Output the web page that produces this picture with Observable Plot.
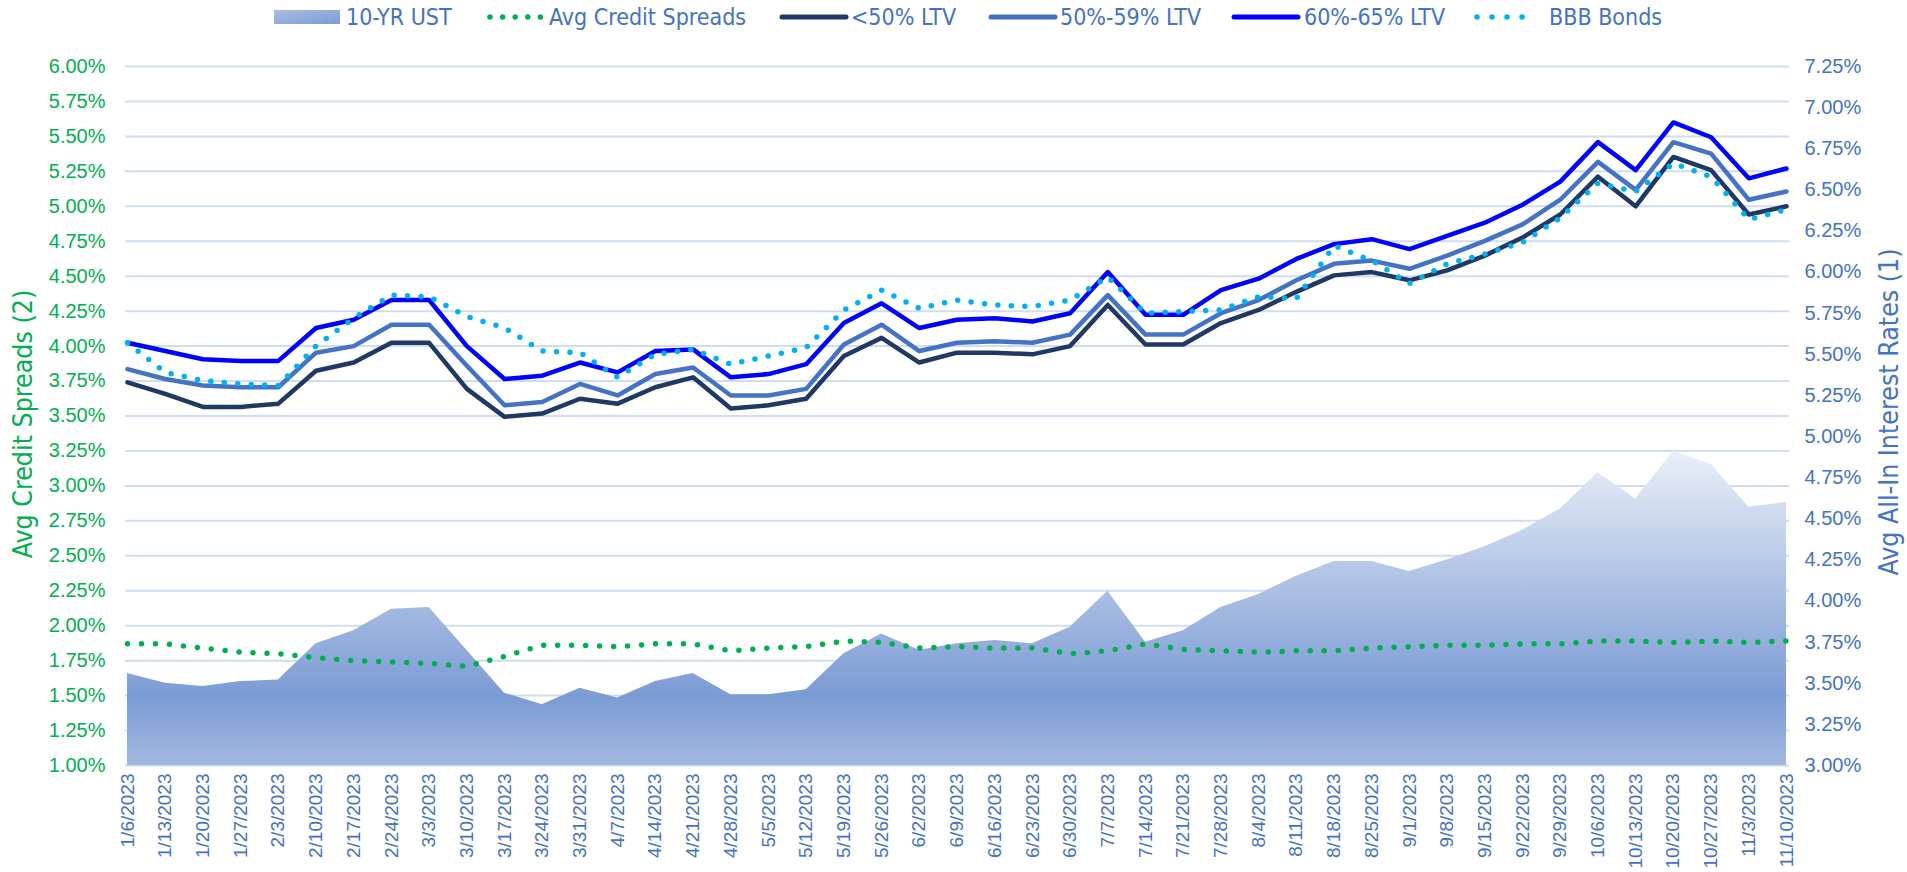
<!DOCTYPE html>
<html><head><meta charset="utf-8">
<script src="https://cdn.jsdelivr.net/npm/d3@7"></script>
<script src="https://cdn.jsdelivr.net/npm/@observablehq/plot@0.6"></script>
<style>
body{margin:0;background:#fff;font-family:"Liberation Sans",Arial,sans-serif;}
#legend{position:relative;width:1907px;height:34px;}
.li{position:absolute;top:0;height:34px;display:flex;align-items:center;}
.lt{position:absolute;top:0;height:34px;line-height:34px;font-family:"Liberation Sans Narrow","Arial Narrow","DejaVu Sans Condensed",sans-serif;font-size:23px;color:#4472C4;white-space:nowrap;}
#chart svg{display:block;}
</style></head><body>
<div id="legend"></div>
<div id="chart"></div>
<script>
const dates = ["1/6/2023","1/13/2023","1/20/2023","1/27/2023","2/3/2023","2/10/2023","2/17/2023","2/24/2023","3/3/2023","3/10/2023","3/17/2023","3/24/2023","3/31/2023","4/7/2023","4/14/2023","4/21/2023","4/28/2023","5/5/2023","5/12/2023","5/19/2023","5/26/2023","6/2/2023","6/9/2023","6/16/2023","6/23/2023","6/30/2023","7/7/2023","7/14/2023","7/21/2023","7/28/2023","8/4/2023","8/11/2023","8/18/2023","8/25/2023","9/1/2023","9/8/2023","9/15/2023","9/22/2023","9/29/2023","10/6/2023","10/13/2023","10/20/2023","10/27/2023","11/3/2023","11/10/2023"];
// 10-YR UST (right axis, %)
const ust = [3.56,3.50,3.48,3.51,3.52,3.74,3.82,3.95,3.96,3.70,3.44,3.37,3.47,3.41,3.51,3.56,3.43,3.43,3.46,3.68,3.80,3.70,3.74,3.76,3.74,3.84,4.06,3.75,3.82,3.96,4.04,4.15,4.24,4.24,4.18,4.25,4.33,4.43,4.56,4.78,4.62,4.91,4.83,4.57,4.60];
// Avg Credit Spreads (left axis, %)
const spreads = [1.87,1.87,1.84,1.81,1.80,1.77,1.75,1.74,1.73,1.71,1.78,1.86,1.86,1.85,1.87,1.87,1.82,1.84,1.85,1.89,1.88,1.84,1.85,1.84,1.84,1.80,1.82,1.87,1.83,1.82,1.81,1.82,1.82,1.84,1.85,1.86,1.86,1.87,1.87,1.89,1.89,1.88,1.89,1.88,1.89];
// All-in rates (right axis, %)
const ltvUnder50 = [5.33,5.26,5.18,5.18,5.20,5.40,5.45,5.57,5.57,5.29,5.12,5.14,5.23,5.20,5.30,5.36,5.17,5.19,5.23,5.49,5.60,5.45,5.51,5.51,5.50,5.55,5.80,5.56,5.56,5.69,5.77,5.88,5.98,6.00,5.95,6.01,6.10,6.21,6.35,6.58,6.40,6.70,6.62,6.35,6.40];
const ltv50to59 = [5.41,5.35,5.31,5.30,5.30,5.51,5.55,5.68,5.68,5.43,5.19,5.21,5.32,5.25,5.38,5.42,5.25,5.25,5.29,5.56,5.68,5.52,5.57,5.58,5.57,5.62,5.86,5.62,5.62,5.75,5.83,5.95,6.05,6.07,6.02,6.10,6.19,6.29,6.44,6.67,6.50,6.79,6.72,6.44,6.49];
const ltv60to65 = [5.57,5.52,5.47,5.46,5.46,5.66,5.71,5.83,5.83,5.55,5.35,5.37,5.45,5.39,5.52,5.53,5.36,5.38,5.44,5.69,5.81,5.66,5.71,5.72,5.70,5.75,6.00,5.74,5.74,5.89,5.96,6.08,6.17,6.20,6.14,6.22,6.30,6.41,6.55,6.79,6.62,6.91,6.82,6.57,6.63];
const bbb = [5.57,5.39,5.34,5.32,5.31,5.55,5.72,5.86,5.85,5.73,5.66,5.52,5.51,5.36,5.50,5.53,5.44,5.49,5.54,5.77,5.89,5.78,5.83,5.80,5.79,5.83,5.97,5.75,5.76,5.77,5.85,5.84,6.16,6.07,5.93,6.05,6.11,6.18,6.33,6.54,6.49,6.66,6.58,6.32,6.38];
const leftTicks = [1.00,1.25,1.50,1.75,2.00,2.25,2.50,2.75,3.00,3.25,3.50,3.75,4.00,4.25,4.50,4.75,5.00,5.25,5.50,5.75,6.00];
const rightTicks = [3.00,3.25,3.50,3.75,4.00,4.25,4.50,4.75,5.00,5.25,5.50,5.75,6.00,6.25,6.50,6.75,7.00,7.25];
const seriesNames = ["10-YR UST","Avg Credit Spreads","<50% LTV","50%-59% LTV","60%-65% LTV","BBB Bonds"];
const leftTitle = "Avg Credit Spreads (2)";
const rightTitle = "Avg All-In Interest Rates (1)";

// left axis (1%..6%) mapped onto right axis (3%..7.25%)
const L0 = 1, L1 = 6, R0 = 3, R1 = 7.25;
const toR = v => R0 + (v - L0) * (R1 - R0) / (L1 - L0);
const toL = r => L0 + (r - R0) * (L1 - L0) / (R1 - R0);

const data = dates.map((d, i) => ({date: d, ust: ust[i], spread: spreads[i], a: ltvUnder50[i], b: ltv50to59[i], c: ltv60to65[i], bbb: bbb[i]}));

const GREEN = "#00B050", BLUE = "#4472C4";
const NARROW = "'Liberation Sans Narrow','Arial Narrow','DejaVu Sans Condensed',sans-serif";

const defs = () => {
  const ns = "http://www.w3.org/2000/svg";
  const el = document.createElementNS(ns, "defs");
  el.innerHTML = `<linearGradient id="ustGrad" x1="0" y1="0" x2="0" y2="1">
    <stop offset="0" stop-color="#eaeff9"/><stop offset="0.78" stop-color="#7b9bd4"/><stop offset="1" stop-color="#a3b8e1"/></linearGradient>`;
  return el;
};

const chart = Plot.plot({
  width: 1907, height: 838,
  marginLeft: 127, marginRight: 121, marginTop: 32, marginBottom: 107,
  style: {fontFamily: "'Liberation Sans',Arial,sans-serif", background: "#fff"},
  x: {type: "point", domain: dates, padding: 0},
  y: {domain: [R0, R1]},
  marks: [
    defs,
    Plot.ruleY(leftTicks, {y: d => toR(d), stroke: "#D0DCF0", strokeWidth: 2, insetLeft: -2, insetRight: -3}),
    Plot.areaY(data, {x: "date", y1: R0, y2: "ust", fill: "url(#ustGrad)"}),
    Plot.lineY(data, {x: "date", y: d => toR(d.spread), stroke: GREEN, strokeWidth: 5.5, strokeDasharray: "0 14", strokeLinecap: "round"}),
    Plot.lineY(data, {x: "date", y: "a", stroke: "#203864", strokeWidth: 4.5, strokeLinejoin: "round"}),
    Plot.lineY(data, {x: "date", y: "b", stroke: BLUE, strokeWidth: 4.5, strokeLinejoin: "round"}),
    Plot.lineY(data, {x: "date", y: "c", stroke: "#0000FF", strokeWidth: 4.5, strokeLinejoin: "round"}),
    Plot.lineY(data, {x: "date", y: "bbb", stroke: "#00B0F0", strokeWidth: 5.5, strokeDasharray: "0 13.5", strokeLinecap: "round"}),
    Plot.axisY(leftTicks.map(toR), {anchor: "left", tickSize: 0, tickPadding: 22, fontSize: 20, color: GREEN, label: null,
      tickFormat: d => toL(d).toFixed(2) + "%"}),
    Plot.axisY(rightTicks, {anchor: "right", tickSize: 0, tickPadding: 18, fontSize: 20, color: BLUE, label: null,
      tickFormat: d => d.toFixed(2) + "%"}),
    Plot.axisX({tickRotate: -90, tickSize: 0, tickPadding: 8, fontSize: 19, color: BLUE, label: null}),
    Plot.text([leftTitle], {frameAnchor: "left", textAnchor: "middle", text: d => d, rotate: -90, dx: -104, dy: 8, fill: GREEN, fontSize: 26.5, fontFamily: NARROW}),
    Plot.text([rightTitle], {frameAnchor: "right", textAnchor: "middle", text: d => d, rotate: -90, dx: 103, dy: -4, fill: BLUE, fontSize: 26.5, fontFamily: NARROW})
  ]
});
document.getElementById("chart").appendChild(chart);

// legend
const legend = document.getElementById("legend");
const swatchX = [274, 487, 779, 988, 1231, 1474];
const textX = [346, 549, 851, 1060, 1304, 1549];
const swatches = [
  `<svg width="66" height="14"><defs><linearGradient id="lg0" x1="0" y1="0" x2="1" y2="1"><stop offset="0" stop-color="#aabde3"/><stop offset="1" stop-color="#7b9bd4"/></linearGradient></defs><rect x="0" y="0" width="66" height="14" fill="url(#lg0)"/></svg>`,
  `<svg width="56" height="10"><line x1="3" y1="5" x2="54" y2="5" stroke="${GREEN}" stroke-width="5.5" stroke-linecap="round" stroke-dasharray="0 12.6"/></svg>`,
  `<svg width="70" height="10"><line x1="3" y1="5" x2="67" y2="5" stroke="#203864" stroke-width="5" stroke-linecap="round"/></svg>`,
  `<svg width="70" height="10"><line x1="3" y1="5" x2="67" y2="5" stroke="${BLUE}" stroke-width="5" stroke-linecap="round"/></svg>`,
  `<svg width="70" height="10"><line x1="3" y1="5" x2="67" y2="5" stroke="#0000FF" stroke-width="5" stroke-linecap="round"/></svg>`,
  `<svg width="66" height="10"><line x1="3" y1="5" x2="63" y2="5" stroke="#00B0F0" stroke-width="5.5" stroke-linecap="round" stroke-dasharray="0 15"/></svg>`
];
seriesNames.forEach((name, i) => {
  const s = document.createElement("div");
  s.className = "li"; s.style.left = swatchX[i] + "px"; s.innerHTML = swatches[i];
  legend.appendChild(s);
  const t = document.createElement("div");
  t.className = "lt"; t.style.left = textX[i] + "px"; t.textContent = name;
  legend.appendChild(t);
});
</script>
</body></html>
